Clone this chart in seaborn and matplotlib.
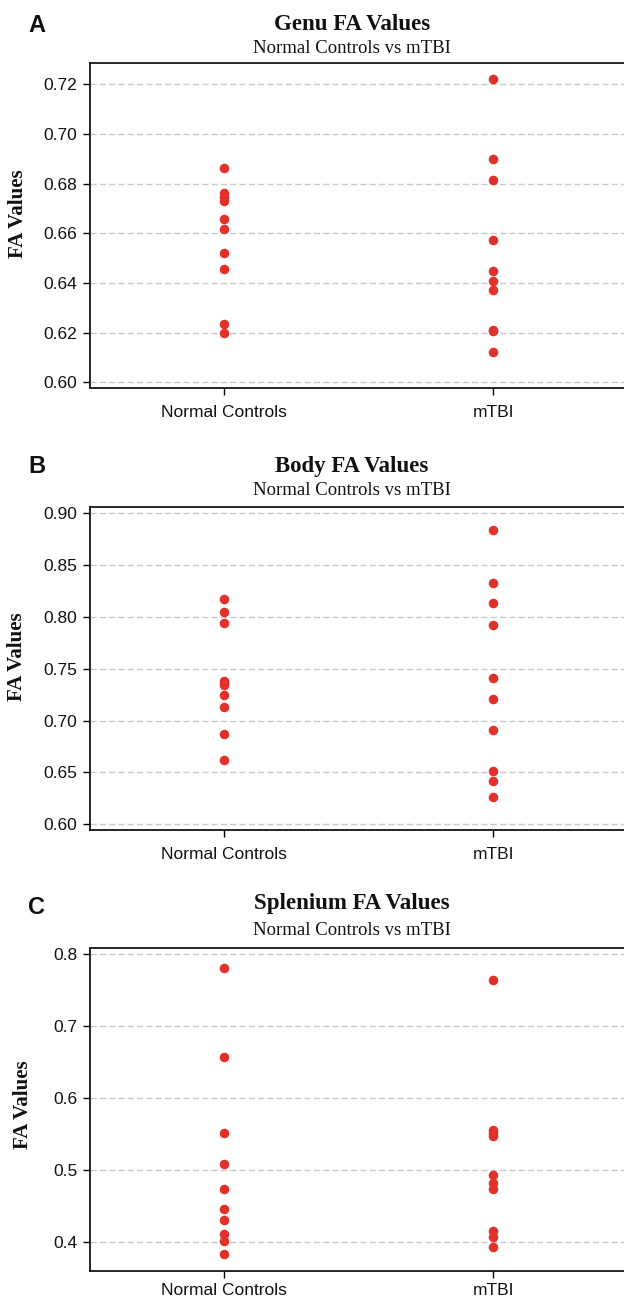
import matplotlib
matplotlib.use("Agg")
import matplotlib.pyplot as plt
import seaborn as sns
import pandas as pd
from matplotlib.ticker import FormatStrFormatter

# <--- data --->
groups = ["Normal Controls", "mTBI"]

genu_nc = [0.6864, 0.6763, 0.6745, 0.6729, 0.6658, 0.6619, 0.6519, 0.6455, 0.6233, 0.6198]
genu_mtbi = [0.7220, 0.6900, 0.6813, 0.6575, 0.6447, 0.6410, 0.6373, 0.6212, 0.6206, 0.6124]

body_nc = [0.8174, 0.8051, 0.7942, 0.7386, 0.7366, 0.7344, 0.7248, 0.7132, 0.6868, 0.6617]
body_mtbi = [0.8842, 0.8325, 0.8138, 0.7920, 0.7415, 0.7209, 0.6913, 0.6518, 0.6418, 0.6267]

splen_nc = [0.7796, 0.6565, 0.5509, 0.5083, 0.4736, 0.4454, 0.4296, 0.4111, 0.4009, 0.3824]
splen_mtbi = [0.7639, 0.5551, 0.5514, 0.5472, 0.4921, 0.4810, 0.4727, 0.4153, 0.4069, 0.3931]

titles = ["Genu FA Values", "Body FA Values", "Splenium FA Values"]
subtitle = "Normal Controls vs mTBI"
letters = ["A", "B", "C"]

genu_ticks = [0.60, 0.62, 0.64, 0.66, 0.68, 0.70, 0.72]
body_ticks = [0.60, 0.65, 0.70, 0.75, 0.80, 0.85, 0.90]
splen_ticks = [0.4, 0.5, 0.6, 0.7, 0.8]

panels = [
    (genu_nc, genu_mtbi, genu_ticks, (0.5976, 0.7285), "%.2f"),
    (body_nc, body_mtbi, body_ticks, (0.5945, 0.9064), "%.2f"),
    (splen_nc, splen_mtbi, splen_ticks, (0.3597, 0.8075), "%.1f"),
]

# layout in pixels (figure is 624 x 1300)
W, H = 624.0, 1300.0
ax_tops = [63.3, 506.7, 948.3]
ax_bottoms = [388.3, 830.0, 1270.7]
title_base = [30.0, 471.7, 909.0]
sub_base = [53.3, 495.0, 935.0]
letter_base = [31.7, 473.3, 914.5]
ylab_pos = [(18.0, 214.0), (16.7, 656.5), (23.3, 1105.0)]
xlab_pad = [7, 7, 3.5]

sns.set_style("white")
dot_color = "#E0322A"

fig = plt.figure(figsize=(6.24, 13), dpi=100)

for i, (nc, mt, ticks, ylim, fmt) in enumerate(panels):
    df = pd.DataFrame({
        "group": [groups[0]] * len(nc) + [groups[1]] * len(mt),
        "fa": nc + mt,
    })
    left = 89.85 / W
    width = 537.8 / W
    bottom = (H - ax_bottoms[i]) / H
    height = (ax_bottoms[i] - ax_tops[i]) / H
    ax = fig.add_axes([left, bottom, width, height])

    for t in ticks:
        ax.axhline(t, color="#CACACA", lw=1.0, ls=(0, (4.5, 2.2)), zorder=0)

    sns.stripplot(data=df, x="group", y="fa", order=groups, jitter=False,
                  color=dot_color, size=6.9, linewidth=0, ax=ax, zorder=3)

    ax.set_xlim(-0.5, 1.5)
    ax.set_ylim(*ylim)
    ax.set_yticks(ticks)
    ax.yaxis.set_major_formatter(FormatStrFormatter(fmt))
    ax.set_xlabel("")
    ax.set_ylabel("")
    ax.tick_params(axis="both", direction="out", length=5, width=1,
                   color="black", labelsize=12.5, left=True, bottom=True)
    ax.tick_params(axis="x", pad=xlab_pad[i])
    ax.tick_params(axis="y", pad=4)
    for lab in ax.get_xticklabels() + ax.get_yticklabels():
        lab.set_fontfamily("Liberation Sans")
        lab.set_color("#111111")
    for side in ["left", "bottom", "top"]:
        ax.spines[side].set_visible(True)
        ax.spines[side].set_color("black")
        ax.spines[side].set_linewidth(1.2)
    ax.spines["right"].set_visible(False)
    ax.grid(False)

    fig.text(352 / W, 1 - title_base[i] / H, titles[i], ha="center", va="baseline",
             fontsize=16.5, fontweight="bold", family="Liberation Serif", color="#111111")
    fig.text(352 / W, 1 - sub_base[i] / H, subtitle, ha="center", va="baseline",
             fontsize=13.5, family="Liberation Serif", color="#111111")
    fig.text(28 / W, 1 - letter_base[i] / H, letters[i], ha="left", va="baseline",
             fontsize=17, fontweight="bold", family="Liberation Sans", color="#111111")
    fig.text(ylab_pos[i][0] / W, 1 - ylab_pos[i][1] / H, "FA Values", rotation=90,
             ha="center", va="center", fontsize=15, fontweight="bold",
             family="Liberation Serif", color="#111111")

fig.savefig("out.png", dpi=100)
print("Saved out.png")
